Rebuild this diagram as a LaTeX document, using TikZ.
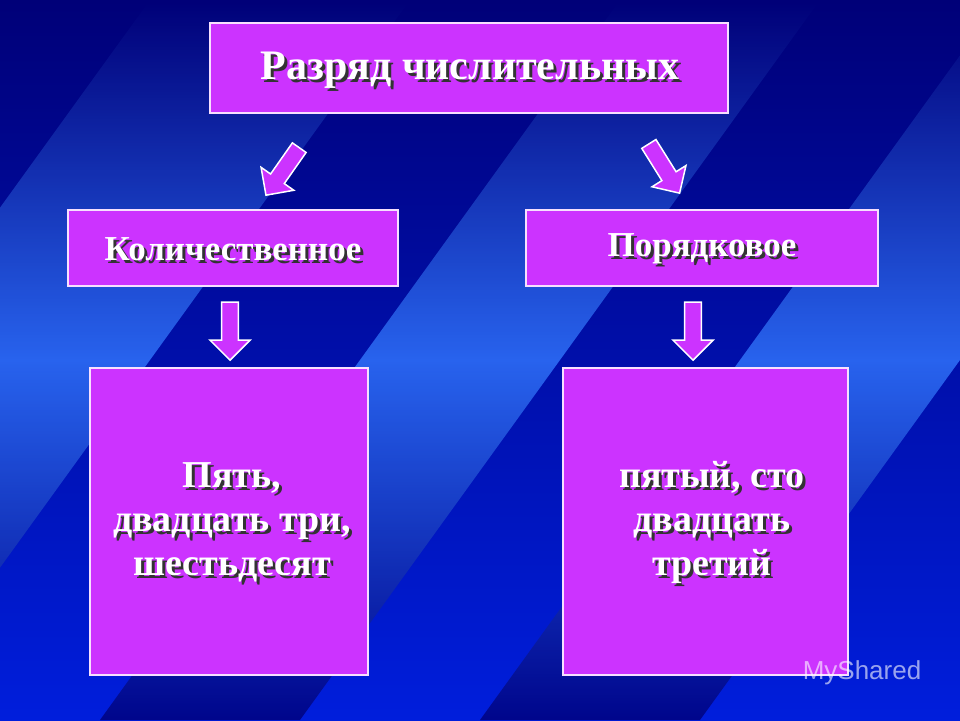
\documentclass[tikz,border=0pt]{standalone}
\usepackage{fontspec}
\setmainfont{Liberation Serif}
\newfontfamily\wmfont{Liberation Sans}
\usetikzlibrary{shapes.arrows,shadings,calc}
\definecolor{mag}{RGB}{204,51,255}
\definecolor{bgdark}{RGB}{0,0,120}
\definecolor{bgmid}{RGB}{0,30,220}
\definecolor{bglight}{RGB}{50,120,255}
\tikzset{
  pbox/.style={draw=white!85!mag, line width=1.2pt, fill=mag},
  ptext/.style={text=white, font=\bfseries\fontsize{38}{44}\selectfont, align=center},
  stext/.style={text=black!80, font=\bfseries\fontsize{38}{44}\selectfont, align=center},
  barrow/.style={single arrow, draw=white, line width=1.5pt, fill=mag, minimum height=58pt, minimum width=40pt, single arrow head extend=8pt, inner sep=5pt},
}
\newcommand{\shtext}[4]{\node[stext,font=\bfseries\fontsize{#4}{44}\selectfont] at ($(#1)+(3,3)$) {#3};\node[ptext,font=\bfseries\fontsize{#4}{44}\selectfont] (#2) at (#1) {#3};}
\begin{document}
\begin{tikzpicture}[x=1pt,y=-1pt]
\useasboundingbox (0,0) rectangle (960,720);
\fill[bgdark] (0,0) rectangle (960,720);
\begin{scope}
\clip (0,0) rectangle (960,720);
\shade[shading=axis, top color=bgdark, bottom color=bgmid, shading angle=0] (0,0) rectangle (960,720);
\foreach \o/\w in {-250/180, 150/260, 620/200, 1000/220} {
  \shade[shading=axis, left color=bgdark, right color=bgdark, middle color=bglight, shading angle=0, opacity=0.8]
    (\o,0) -- ++(\w,0) -- ++(-520,720) -- ++(-\w,0) -- cycle;
}
\end{scope}
\draw[pbox] (210,23) rectangle (728,113);
\draw[pbox] (68,210) rectangle (398,286);
\draw[pbox] (526,210) rectangle (878,286);
\draw[pbox] (90,368) rectangle (368,675);
\draw[pbox] (563,368) rectangle (848,675);
\coordinate (ct) at (470,70);
\coordinate (cl) at (233,249);
\coordinate (cr) at (702,249);
\coordinate (cbl) at (232,522);
\coordinate (cbr) at (712,522);
\shtext{ct}{t}{Разряд числительных}{42}
\shtext{cl}{l}{Количественное}{35}
\shtext{cr}{r}{Порядковое}{35}
\shtext{cbl}{bl}{Пять,\\двадцать три,\\шестьдесят}{38}
\shtext{cbr}{br}{пятый, сто\\двадцать\\третий}{38}
\node[barrow, rotate=-125] (a1) at (285,168) {};
\node[barrow, rotate=-58] (a2) at (662,165) {};
\node[barrow, rotate=-90] (a3) at (230,327) {};
\node[barrow, rotate=-90] (a4) at (693,327) {};
\node[text=white, opacity=0.6, font=\wmfont\fontsize{26}{30}\selectfont] (wm) at (862,673) {MyShared};
\end{tikzpicture}
\end{document}
